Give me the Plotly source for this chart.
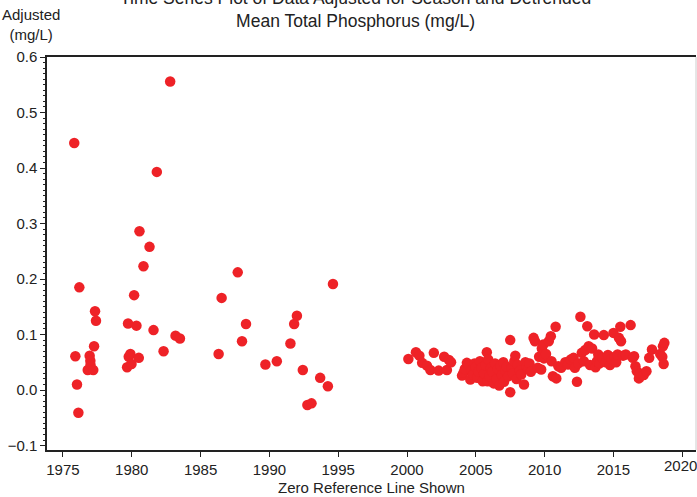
import plotly.graph_objects as go

early_years = [1975.82, 1975.90, 1976.02, 1976.12, 1976.19, 1976.80, 1976.94, 1976.99, 1977.00, 1977.20,
               1977.26, 1977.33, 1977.40, 1979.66, 1979.73, 1979.78, 1979.90, 1979.98, 1980.17, 1980.34,
               1980.51, 1980.56, 1980.85, 1981.29, 1981.58, 1981.82, 1982.31, 1982.79, 1983.18, 1983.50,
               1986.31, 1986.53, 1987.70, 1988.01, 1988.30, 1989.71, 1990.54, 1991.53, 1991.80, 1992.00,
               1992.43, 1992.76, 1993.06, 1993.69, 1994.25, 1994.62]
early_vals = [0.445, 0.061, 0.010, -0.041, 0.185, 0.036, 0.062, 0.053, 0.045, 0.036,
              0.079, 0.142, 0.125, 0.041, 0.120, 0.060, 0.065, 0.047, 0.171, 0.116,
              0.058, 0.286, 0.223, 0.258, 0.108, 0.393, 0.070, 0.556, 0.098, 0.093,
              0.065, 0.166, 0.212, 0.088, 0.119, 0.046, 0.052, 0.084, 0.119, 0.134,
              0.036, -0.027, -0.024, 0.022, 0.007, 0.191]

late_years = [2000.1, 2000.65, 2000.9, 2001.1, 2001.45, 2001.7, 2001.95, 2002.3, 2002.7, 2003.05, 2002.9, 2003.2,
              2004.0, 2004.1, 2004.2, 2004.35, 2004.5, 2004.6, 2004.7, 2004.8, 2004.9, 2005.0, 2005.1, 2005.2,
              2005.3, 2005.4, 2005.5, 2005.6, 2005.7, 2005.8, 2005.85, 2005.9,
              2006.0, 2006.1, 2006.2, 2006.3, 2006.4, 2006.5, 2006.6, 2006.7, 2006.8, 2006.9,
              2007.0, 2007.05, 2007.15, 2007.25, 2007.35, 2007.5, 2007.5, 2007.6, 2007.7, 2007.8, 2007.87, 2007.95,
              2008.05, 2008.2, 2008.3, 2008.5, 2008.6, 2008.7, 2008.8, 2008.9, 2009.0,
              2009.2, 2009.3, 2009.5, 2009.6, 2009.75, 2009.8, 2009.9, 2009.95,
              2010.1, 2010.3, 2010.45, 2010.5, 2010.6, 2010.8, 2010.85, 2011.0, 2011.2,
              2011.5, 2011.7, 2011.9, 2012.1, 2012.2, 2012.35, 2012.45, 2012.6, 2012.7, 2012.85, 2012.95,
              2013.1, 2013.2, 2013.3, 2013.45, 2013.6, 2013.7, 2013.8, 2013.9,
              2014.0, 2014.2, 2014.3, 2014.45, 2014.6, 2014.75, 2014.85,
              2015.0, 2015.1, 2015.2, 2015.3, 2015.4, 2015.5, 2015.55, 2015.7, 2015.9,
              2016.25, 2016.4, 2016.5, 2016.6, 2016.7, 2016.85, 2016.95,
              2017.2, 2017.4, 2017.6, 2017.8,
              2018.4, 2018.55, 2018.6, 2018.65, 2018.7]
late_vals = [0.056, 0.068, 0.062, 0.049, 0.044, 0.036, 0.067, 0.035, 0.060, 0.054, 0.036, 0.050,
             0.026, 0.031, 0.038, 0.049, 0.045, 0.019, 0.036, 0.028, 0.048, 0.042, 0.022, 0.033,
             0.052, 0.040, 0.016, 0.030, 0.045, 0.068, 0.016, 0.055,
             0.025, 0.040, 0.033, 0.012, 0.048, 0.020, 0.038, 0.008, 0.044, 0.027,
             0.050, 0.015, 0.035, 0.042, 0.025, 0.090, -0.004, 0.040, 0.030, 0.052, 0.062, 0.020,
             0.045, 0.035, 0.028, 0.010, 0.050, 0.042, 0.038, 0.048, 0.033,
             0.094, 0.088, 0.040, 0.060, 0.037, 0.075, 0.082, 0.057,
             0.065, 0.088, 0.097, 0.052, 0.025, 0.114, 0.021, 0.043, 0.040,
             0.050, 0.046, 0.055, 0.058, 0.040, 0.015, 0.048, 0.132, 0.067, 0.052, 0.072,
             0.115, 0.079, 0.045, 0.075, 0.100, 0.041, 0.052, 0.064,
             0.048, 0.058, 0.099, 0.050, 0.063, 0.045, 0.056,
             0.103, 0.060, 0.050, 0.064, 0.094, 0.114, 0.088, 0.062, 0.064,
             0.117, 0.058, 0.061, 0.043, 0.034, 0.021, 0.030,
             0.027, 0.034, 0.058, 0.073,
             0.065, 0.060, 0.079, 0.047, 0.085]

years = early_years + late_years
values = early_vals + late_vals

x_ticks = [1975, 1980, 1985, 1990, 1995, 2000, 2005, 2010, 2015, 2020]
x_labels = ["1975", "1980", "1985", "1990", "1995", "2000", "2005", "2010", "2015", "2020"]
y_ticks = [-0.1, 0.0, 0.1, 0.2, 0.3, 0.4, 0.5, 0.6]

font = "Liberation Sans, Arial, sans-serif"
txt = "#222222"

fig = go.Figure()
fig.add_trace(go.Scatter(
    x=years, y=values, mode="markers",
    marker=dict(color="#EE2227", size=10.5, line=dict(width=0)),
    showlegend=False, cliponaxis=False,
))

fig.add_hline(y=0, line=dict(color="#9a9a9a", width=2), layer="below")

# last tick label would be dropped by plotly at the paper edge; draw it as an annotation
edge_label = dict(text=x_labels[-1], x=1, xref="paper", yref="paper", y=0,
                  xanchor="right", yanchor="top", xshift=2, yshift=-6, showarrow=False,
                  borderpad=0, font=dict(family=font, size=15, color=txt))

fig.update_layout(
    width=697, height=497,
    margin=dict(l=47, r=1, t=57, b=47, autoexpand=False),
    paper_bgcolor="white", plot_bgcolor="white",
    font=dict(family=font, size=15, color=txt),
    xaxis=dict(
        range=[1973.84, 2021.0], tickvals=x_ticks, ticktext=x_labels[:-1] + [""],
        ticks="outside", ticklen=5,
        tickcolor=txt, showgrid=False, zeroline=False,
        showline=True, linecolor=txt, linewidth=1.5, mirror=True,
        title=dict(text="Zero Reference Line Shown", standoff=6,
                   font=dict(family=font, size=15, color=txt)),
        tickfont=dict(size=15),
    ),
    yaxis=dict(
        range=[-0.108, 0.6], tickvals=y_ticks, tickformat=".1f", ticks="outside", ticklen=5,
        tickcolor=txt, showgrid=False, zeroline=False,
        showline=True, linecolor=txt, linewidth=1.5,
        minor=dict(dtick=0.01, ticks="outside", ticklen=2, tickcolor=txt),
        tickfont=dict(size=15),
    ),
    annotations=[
        dict(text="Time Series Plot of Data Adjusted for Season and Detrended<br>Mean Total Phosphorus (mg/L)",
             xref="paper", yref="paper", x=0.475, y=1.0, xanchor="center", yanchor="bottom",
             yshift=24, showarrow=False, align="center",
             font=dict(family=font, size=17.5, color=txt)),
        dict(text="Adjusted<br>(mg/L)", xref="paper", yref="paper", x=-0.0245, y=1.0,
             xanchor="center", yanchor="bottom", yshift=12, showarrow=False, align="center",
             font=dict(family=font, size=15, color=txt)),
        edge_label,
    ],
    shapes=[dict(type="line", xref="paper", yref="paper", x0=1, x1=1, y0=0, y1=1,
                 line=dict(color="#cccccc", width=1))],
)

fig.write_html("out.html", config={"displayModeBar": False},
               post_script="document.body.style.margin='0';document.body.style.padding='0';")
